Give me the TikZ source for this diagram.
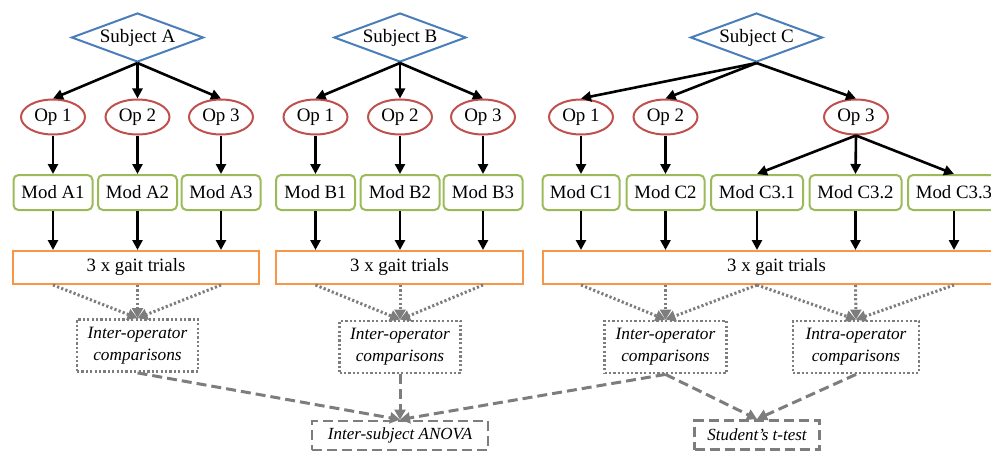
\documentclass[tikz,border=0pt]{standalone}
\usepackage{fontspec}
\setmainfont{Liberation Serif}
\usetikzlibrary{shapes.geometric,arrows.meta}
\definecolor{subjblue}{RGB}{74,126,187}
\definecolor{opred}{RGB}{192,80,77}
\definecolor{modgreen}{RGB}{155,187,89}
\definecolor{gaitorange}{RGB}{247,150,70}
\definecolor{cmpgray}{RGB}{125,125,125}
\begin{document}
\begin{tikzpicture}[x=1pt,y=-1pt,
 subj/.style={diamond, draw=subjblue, line width=2pt, minimum width=132pt, minimum height=49pt, inner sep=0pt, aspect=2.7, font=\fontsize{19}{22}\selectfont},
 op/.style={ellipse, draw=opred, line width=2pt, minimum width=64pt, minimum height=35pt, inner sep=0pt, font=\fontsize{19}{22}\selectfont},
 modbox/.style={rectangle, rounded corners=5pt, draw=modgreen, line width=2pt, minimum width=79pt, minimum height=35pt, inner sep=0pt, font=\fontsize{18.8}{22}\selectfont},
 gaitbox/.style={rectangle, draw=gaitorange, line width=2pt, minimum height=33pt, inner sep=0pt, font=\fontsize{18.8}{22}\selectfont},
 cmpbox/.style={rectangle, draw=cmpgray, line width=2.8pt, dash pattern=on 2.2pt off 2.2pt, minimum width=121pt, minimum height=52pt, inner sep=0pt, align=center, font=\fontsize{17.3}{22}\selectfont\itshape},
 statbox/.style={rectangle, draw=cmpgray, line width=2.8pt, dash pattern=on 10pt off 5pt, minimum height=29pt, inner sep=0pt, font=\fontsize{17}{20}\selectfont\itshape},
 blk/.style={line width=2.6pt, -{Triangle[length=10pt,width=10pt]}},
 dotar/.style={draw=cmpgray, line width=3pt, dash pattern=on 2.2pt off 2.2pt, -{Triangle[length=10pt,width=11pt]}},
 dashar/.style={draw=cmpgray, line width=3pt, dash pattern=on 10pt off 5pt, -{Triangle[length=10pt,width=11pt]}}
]
\useasboundingbox (0,0) rectangle (991,452);
\clip (0,0) rectangle (991,452);

% subjects
\node[subj] (sA) at (137.5,37.5) {Subject A};
\node[subj] (sB) at (400,37.5) {Subject B};
\node[subj] (sC) at (756.5,37.5) {Subject C};

% operators
\node[op] (oA1) at (53,117) {Op 1};
\node[op] (oA2) at (137.5,117) {Op 2};
\node[op] (oA3) at (221,117) {Op 3};
\node[op] (oB1) at (315.5,117) {Op 1};
\node[op] (oB2) at (400,117) {Op 2};
\node[op] (oB3) at (483,117) {Op 3};
\node[op] (oC1) at (581,117) {Op 1};
\node[op] (oC2) at (665.5,117) {Op 2};
\node[op] (oC3) at (856,117) {Op 3};

% models
\node[modbox] (mA1) at (53,192.5) {Mod A1};
\node[modbox] (mA2) at (137.5,192.5) {Mod A2};
\node[modbox] (mA3) at (221,192.5) {Mod A3};
\node[modbox] (mB1) at (315.5,192.5) {Mod B1};
\node[modbox] (mB2) at (400,192.5) {Mod B2};
\node[modbox] (mB3) at (483,192.5) {Mod B3};
\node[modbox, minimum width=77pt] (mC1) at (581,192.5) {Mod C1};
\node[modbox, minimum width=78pt] (mC2) at (665.5,192.5) {Mod C2};
\node[modbox, minimum width=92pt] (mC31) at (757,192.5) {Mod C3.1};
\node[modbox, minimum width=92pt] (mC32) at (855.5,192.5) {Mod C3.2};
\node[modbox, minimum width=92pt] (mC33) at (954,192.5) {Mod C3.3};

% gait trials
\node[gaitbox, minimum width=246pt] (gA) at (136,267.5) {3 x gait trials};
\node[gaitbox, minimum width=247pt] (gB) at (399.5,267.5) {3 x gait trials};
\node[gaitbox, minimum width=467pt] (gC) at (776.5,267.5) {3 x gait trials};

% comparisons
\node[cmpbox] (cA) at (137.5,345.5) {Inter-operator\\comparisons};
\node[cmpbox] (cB) at (400,347) {Inter-operator\\comparisons};
\node[cmpbox, minimum width=122pt] (cC) at (665.5,347) {Inter-operator\\comparisons};
\node[cmpbox, minimum width=126pt] (cD) at (856,347) {Intra-operator\\comparisons};

% statistics
\node[statbox, minimum width=176pt] (anova) at (400,435.5) {Inter-subject ANOVA};
\node[statbox, minimum width=125pt] (ttest) at (757,435) {Student’s t-test};

% subject -> operator
\foreach \s/\o in {sA/oA1,sA/oA2,sA/oA3,sB/oB1,sB/oB2,sB/oB3,sC/oC1,sC/oC2,sC/oC3}
  \draw[blk] (\s.south) -- (\o.north);

% operator -> model
\foreach \o/\m in {oA1/mA1,oA2/mA2,oA3/mA3,oB1/mB1,oB2/mB2,oB3/mB3,oC1/mC1,oC2/mC2,oC3/mC31,oC3/mC32,oC3/mC33}
  \draw[blk] (\o.south) -- (\m.north);

% model -> gait trials
\foreach \m/\g in {mA1/gA,mA2/gA,mA3/gA,mB1/gB,mB2/gB,mB3/gB,mC1/gC,mC2/gC,mC31/gC,mC32/gC,mC33/gC}
  \draw[blk] (\m.south) -- (\m.south |- \g.north);

% gait trials -> comparisons
\foreach \m/\g/\c in {mA1/gA/cA,mA2/gA/cA,mA3/gA/cA,mB1/gB/cB,mB2/gB/cB,mB3/gB/cB,mC1/gC/cC,mC2/gC/cC,mC31/gC/cC,mC31/gC/cD,mC32/gC/cD,mC33/gC/cD}
  \draw[dotar] (\m.south |- \g.south) -- (\c.north);

% comparisons -> statistics
\draw[dashar] (cA.south) -- (anova.north);
\draw[dashar] (cB.south) -- (anova.north);
\draw[dashar] (cC.south) -- (anova.north);
\draw[dashar] (cC.south) -- (ttest.north);
\draw[dashar] (cD.south) -- (ttest.north);
\end{tikzpicture}
\end{document}
